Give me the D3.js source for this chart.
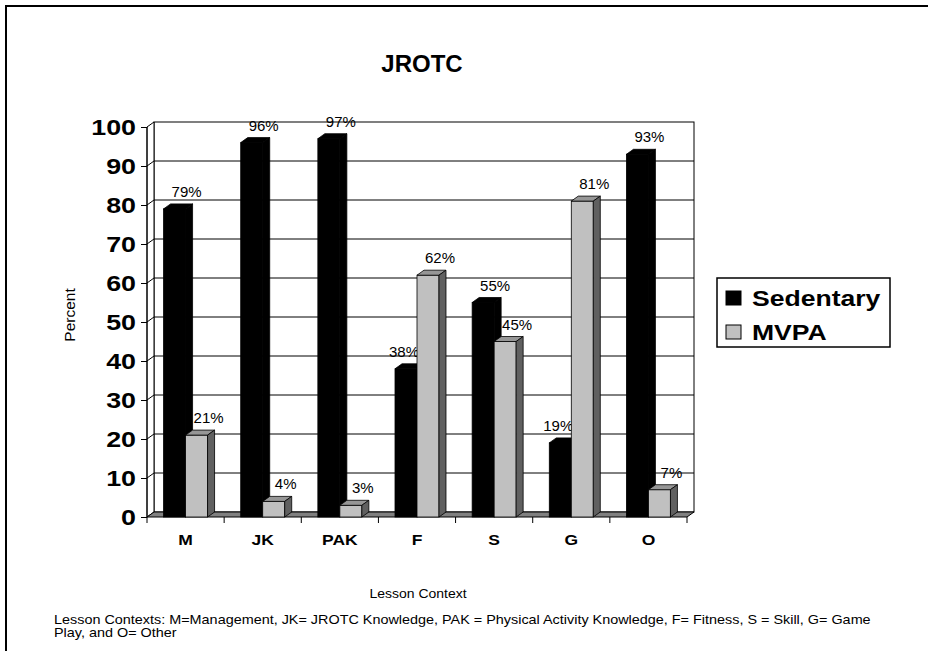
<!DOCTYPE html>
<html>
<head>
<meta charset="utf-8">
<script src="https://cdn.jsdelivr.net/npm/d3@7"></script>
<style>
  body { margin: 0; background: #fff; }
  text { font-family: Arial, "Liberation Sans", sans-serif; fill: #000; }
</style>
</head>
<body>
<svg id="chart" width="928" height="651"></svg>
<script>
const categories = ["M", "JK", "PAK", "F", "S", "G", "O"];
const sedentary = [79, 96, 97, 38, 55, 19, 93];
const mvpa = [21, 4, 3, 62, 45, 81, 7];
const seriesNames = ["Sedentary", "MVPA"];
const yTicks = [0, 10, 20, 30, 40, 50, 60, 70, 80, 90, 100];
const footnote = [
  "Lesson Contexts:  M=Management, JK= JROTC Knowledge, PAK = Physical Activity Knowledge, F= Fitness, S = Skill, G= Game",
  "Play, and O= Other"
];

const dx = 7; // depth offset of the 3d walls
const dy = 5;

const colors = {
  Sedentary: { front: "#000", top: "#000", side: "#000" },
  MVPA: { front: "#c0c0c0", top: "#969696", side: "#606060" }
};

const svg = d3.select("#chart");

// outer frame
svg.append("rect")
  .attr("x", 6).attr("y", 6)
  .attr("width", 940).attr("height", 680)
  .attr("fill", "none").attr("stroke", "#000").attr("stroke-width", 2);

const x = d3.scaleBand().domain(categories).range([147, 687]);
const y = d3.scaleLinear().domain([0, 100]).range([517, 127]);
const bw = x.bandwidth();
const xs = d3.scaleBand().domain(seriesNames).range([bw / 2 - 22, bw / 2 + 22]);

const x0 = x.range()[0], x1 = x.range()[1];
const yTop = y(100), yBase = y(0);

// back wall
svg.append("rect")
  .attr("x", x0 + dx).attr("y", yTop - dy)
  .attr("width", x1 - x0).attr("height", yBase - yTop)
  .attr("fill", "#fff").attr("stroke", "#000");

// side wall
svg.append("path")
  .attr("d", `M${x0},${yTop}L${x0 + dx},${yTop - dy}L${x0 + dx},${yBase - dy}L${x0},${yBase}Z`)
  .attr("fill", "#fff").attr("stroke", "#000");

// gridlines on back and side wall
const grid = svg.append("g").attr("stroke", "#000").attr("stroke-width", 1);
yTicks.filter((v) => v > 0 && v < 100).forEach((v) => {
  grid.append("line")
    .attr("x1", x0 + dx).attr("x2", x1 + dx)
    .attr("y1", y(v) - dy).attr("y2", y(v) - dy);
  grid.append("line")
    .attr("x1", x0).attr("x2", x0 + dx)
    .attr("y1", y(v)).attr("y2", y(v) - dy);
});

// floor
svg.append("path")
  .attr("d", `M${x0},${yBase}L${x0 + dx},${yBase - dy}L${x1 + dx},${yBase - dy}L${x1},${yBase}Z`)
  .attr("fill", "#808080").attr("stroke", "#000");

// bars
const rows = categories.map((c, i) => ({
  cat: c,
  bars: [
    { key: "Sedentary", value: sedentary[i], other: mvpa[i] },
    { key: "MVPA", value: mvpa[i], other: sedentary[i] }
  ]
}));

const groups = svg.selectAll(".cat")
  .data(rows)
  .enter()
  .append("g")
  .attr("class", "cat")
  .attr("transform", (d) => `translate(${x(d.cat)},0)`);

const bars = groups.selectAll(".bar")
  .data((d) => d.bars)
  .enter()
  .append("g")
  .attr("class", "bar");

bars.append("rect")
  .attr("x", (d) => xs(d.key))
  .attr("y", (d) => y(d.value))
  .attr("width", xs.bandwidth())
  .attr("height", (d) => yBase - y(d.value))
  .attr("fill", (d) => colors[d.key].front)
  .attr("stroke", "#000").attr("stroke-width", 0.8);

bars.append("path")
  .attr("d", (d) => {
    const bx = xs(d.key), w = xs.bandwidth(), t = y(d.value);
    return `M${bx},${t}L${bx + dx},${t - dy}L${bx + w + dx},${t - dy}L${bx + w},${t}Z`;
  })
  .attr("fill", (d) => colors[d.key].top)
  .attr("stroke", "#000").attr("stroke-width", 0.8);

bars.append("path")
  .attr("d", (d) => {
    const bx = xs(d.key) + xs.bandwidth(), t = y(d.value);
    return `M${bx},${t}L${bx + dx},${t - dy}L${bx + dx},${yBase - dy}L${bx},${yBase}Z`;
  })
  .attr("fill", (d) => colors[d.key].side)
  .attr("stroke", "#000").attr("stroke-width", 0.8);

// y axis
const yAxis = svg.append("g")
  .attr("transform", `translate(${x0},0)`)
  .call(d3.axisLeft(y).tickValues(yTicks).tickSize(6).tickPadding(5).tickFormat(d3.format("d")));
yAxis.select(".domain").remove();
yAxis.selectAll("line").attr("stroke", "#000");
yAxis.selectAll("text")
  .attr("x", 0)
  .attr("transform", "translate(-11,0) scale(1.22,1)")
  .style("font-size", "22px")
  .style("font-weight", "bold")
  .attr("fill", "#000");
svg.append("line")
  .attr("x1", x0).attr("x2", x0)
  .attr("y1", yTop).attr("y2", yBase)
  .attr("stroke", "#000");

// x axis
const xAxis = svg.append("g")
  .attr("transform", `translate(0,${yBase})`)
  .call(d3.axisBottom(x).tickSize(0).tickPadding(0));
xAxis.select(".domain").remove();
xAxis.selectAll("text")
  .attr("y", 28).attr("dy", 0)
  .attr("transform", "scale(1.25,1)")
  .style("font-size", "14px")
  .style("font-weight", "bold")
  .attr("fill", "#000");
svg.append("g")
  .selectAll("line")
  .data(categories.map((c) => x(c)).concat([x1]))
  .enter()
  .append("line")
  .attr("x1", (d) => d).attr("x2", (d) => d)
  .attr("y1", yBase).attr("y2", yBase + 6)
  .attr("stroke", "#000");

// value labels
bars.append("text")
  .attr("x", (d) => {
    const shift = d.key === "Sedentary" && d.other > d.value ? -2 : 12;
    return xs(d.key) + xs.bandwidth() / 2 + shift;
  })
  .attr("y", (d) => y(d.value) - dy - 7)
  .attr("text-anchor", "middle")
  .style("font-size", "15px")
  .text((d) => d.value + "%");

// title
svg.append("text")
  .attr("x", 422).attr("y", 72)
  .attr("text-anchor", "middle")
  .style("font-size", "24px").style("font-weight", "bold")
  .text("JROTC");

// axis titles
svg.append("text")
  .attr("transform", "translate(75,315) rotate(-90)")
  .attr("text-anchor", "middle")
  .style("font-size", "15.5px")
  .text("Percent");

svg.append("text")
  .attr("transform", "translate(418,598) scale(1.12,1)")
  .attr("text-anchor", "middle")
  .style("font-size", "12.5px")
  .text("Lesson Context");

// legend
const legend = svg.append("g");
legend.append("rect")
  .attr("x", 717).attr("y", 278)
  .attr("width", 173).attr("height", 69)
  .attr("fill", "#fff").attr("stroke", "#000").attr("stroke-width", 1.5);
const items = legend.selectAll(".item")
  .data(seriesNames)
  .enter()
  .append("g")
  .attr("transform", (d, i) => `translate(726,${291 + i * 34})`);
items.append("rect")
  .attr("width", 15).attr("height", 14)
  .attr("fill", (d) => colors[d].front)
  .attr("stroke", "#000");
items.append("text")
  .attr("transform", "translate(26,15) scale(1.18,1)")
  .style("font-size", "22.5px").style("font-weight", "bold")
  .text((d) => d);

// footnote
svg.selectAll(".foot")
  .data(footnote)
  .enter()
  .append("text")
  .attr("class", "foot")
  .attr("transform", (d, i) => `translate(54,${624 + i * 13}) scale(1.2,1)`)
  .style("font-size", "12px")
  .text((d) => d);
</script>
</body>
</html>
